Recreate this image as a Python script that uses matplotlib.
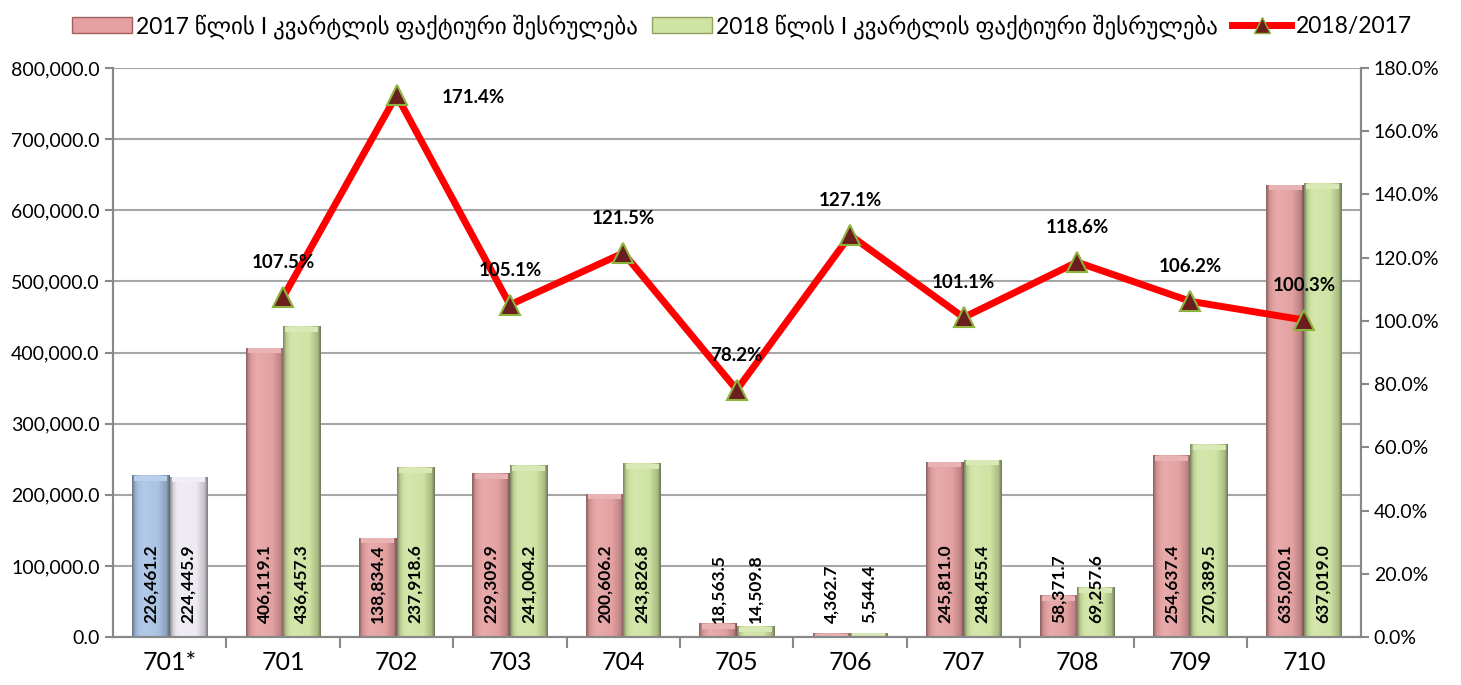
import numpy as np
import matplotlib.pyplot as plt
from matplotlib.colors import to_rgb
from matplotlib.lines import Line2D
from matplotlib.patches import Patch
from matplotlib.ticker import FuncFormatter, FixedLocator

plt.rcParams['font.family'] = ['Lato', 'DejaVu Sans']

# data
cats = ['701*', '701', '702', '703', '704', '705', '706', '707', '708', '709', '710']
v2017 = [226461.2, 406119.1, 138834.4, 229309.9, 200606.2, 18563.5, 4362.7,
         245811.0, 58371.7, 254637.4, 635020.1]
v2018 = [224445.9, 436457.3, 237918.6, 241004.2, 243826.8, 14509.8, 5544.4,
         248455.4, 69257.6, 270389.5, 637019.0]
ratio = [np.nan, 107.5, 171.4, 105.1, 121.5, 78.2, 127.1, 101.1, 118.6, 106.2, 100.3]

lbl17 = '2017 წლის I კვარტლის ფაქტიური შესრულება'
lbl18 = '2018 წლის I კვარტლის ფაქტიური შესრულება'
lblr = '2018/2017'

c17 = '#E4A0A0'
c18 = '#CFE3A2'
c17_first = '#A9C3E3'
c18_first = '#EEEAF2'


def shade(col, f):
    r = np.array(to_rgb(col))
    if f < 1:
        return r * f
    return r + (1 - r) * (f - 1)


def grad_bar(ax, x0, w, h, col):
    # horizontal bevel gradient: dark edge, light center, dark edge
    t = np.linspace(0, 1, 40)
    prof = np.interp(t, [0, 0.08, 0.3, 0.7, 0.92, 1], [0.62, 0.9, 1.12, 1.0, 0.82, 0.55])
    img = np.array([[shade(col, p) for p in prof]])
    img = np.clip(img, 0, 1)
    ax.imshow(img, extent=[x0, x0 + w, 0, h], aspect='auto', zorder=2,
              interpolation='bilinear')
    top = min(h, 7000)
    ax.fill_between([x0 + 0.02, x0 + w - 0.02], h - top, h, color=shade(col, 1.2),
                    zorder=2.1, lw=0)


fig = plt.figure(figsize=(14.61, 6.85), dpi=100)
ax = fig.add_axes([0.0773, 0.070, 0.854, 0.8307])
ax2 = ax.twinx()

x = np.arange(len(cats))
w = 0.33
for i in x:
    a = c17_first if i == 0 else c17
    b = c18_first if i == 0 else c18
    grad_bar(ax, i - w, w, v2017[i], a)
    grad_bar(ax, i, w, v2018[i], b)
    ax.text(i - w / 2, 20000, f'{v2017[i]:,.1f}', rotation=90, ha='center', va='bottom',
            fontsize=12.5, fontweight='bold', zorder=5)
    ax.text(i + w / 2, 20000, f'{v2018[i]:,.1f}', rotation=90, ha='center', va='bottom',
            fontsize=12.5, fontweight='bold', zorder=5)

ax.set_xlim(-0.5, 10.5)
ax.set_ylim(0, 800000)
ax.set_yticks(np.arange(0, 800001, 100000))
ax.yaxis.set_major_formatter(FuncFormatter(lambda v, p: f'{v:,.1f}'))
ax.grid(axis='y', color='#A6A6A6', lw=1.5, zorder=0)
ax.set_axisbelow(True)
ax.set_xticks(x)
ax.set_xticklabels(cats, fontsize=18)
ax.tick_params(axis='x', length=0, pad=10)
ax.xaxis.set_minor_locator(FixedLocator(np.arange(0.5, 10, 1)))
ax.tick_params(axis='x', which='minor', length=8, color='#888888', width=1.5)
ax.tick_params(axis='y', labelsize=14, length=6, color='#888888', width=1.5)

ax2.plot(x, np.array(ratio) / 100, color='#FF0000', lw=5, zorder=6,
         marker='^', ms=15, markerfacecolor='#6B1E1E', markeredgecolor='#8CB43C',
         markeredgewidth=1.5)
ax2.set_ylim(0, 1.8)
ax2.set_yticks(np.arange(0, 1.81, 0.2))
ax2.yaxis.set_major_formatter(FuncFormatter(lambda v, p: f'{v * 100:.1f}%'))
ax2.tick_params(axis='y', labelsize=14, length=6, color='#888888', width=1.5)

for i in x[1:]:
    if i == 2:
        ax2.annotate(f'{ratio[i]:.1f}%', (i, ratio[i] / 100), xytext=(55, -2),
                     textcoords='offset points', ha='center', va='center',
                     fontsize=13.5, fontweight='bold', zorder=7)
    else:
        ax2.annotate(f'{ratio[i]:.1f}%', (i, ratio[i] / 100), xytext=(0, 25),
                     textcoords='offset points', ha='center', va='center',
                     fontsize=13.5, fontweight='bold', zorder=7)

for a in (ax, ax2):
    a.spines['top'].set_visible(False)
    for s in ('left', 'right', 'bottom'):
        a.spines[s].set_color('#888888')
        a.spines[s].set_linewidth(1.5)

handles = [
    Patch(facecolor=c17, edgecolor='#A06060', label=lbl17),
    Patch(facecolor=c18, edgecolor='#90A060', label=lbl18),
    Line2D([0], [0], color='#FF0000', lw=5, marker='^', ms=12,
           markerfacecolor='#6B1E1E', markeredgecolor='#8CB43C', label=lblr),
]
fig.legend(handles=handles, loc='upper center', bbox_to_anchor=(0.508, 1.01), ncol=3,
           frameon=False, fontsize=16.5, handlelength=2.6, handletextpad=0.2,
           columnspacing=0.6)

fig.savefig('out.png', dpi=100)
